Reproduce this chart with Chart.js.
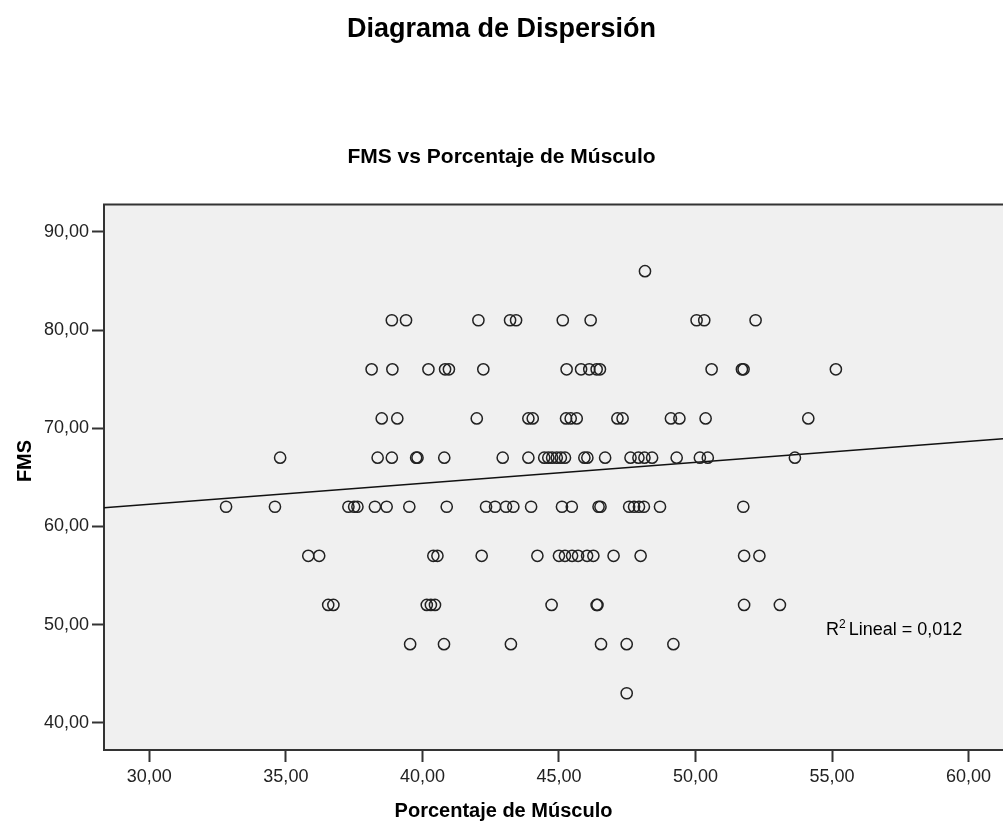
<!DOCTYPE html>
<html>
<head>
<meta charset="utf-8">
<script src="https://cdn.jsdelivr.net/npm/chart.js@4.4.0/dist/chart.umd.min.js"></script>
<style>
html,body{margin:0;padding:0;background:#ffffff;overflow:hidden}
canvas{display:block}
</style>
</head>
<body>
<canvas id="c" width="1003" height="836"></canvas>
<script>
// ---- texts ----
const titleText = 'Diagrama de Dispersión';
const subtitleText = 'FMS vs Porcentaje de Músculo';
const xAxisTitle = 'Porcentaje de Músculo';
const yAxisTitle = 'FMS';
const fitLabelSup = '2';
const fitLabelRest = ' Lineal = 0,012';

// ---- tick labels ----
const xTicks = [30, 35, 40, 45, 50, 55, 60];
const yTicks = [40, 50, 60, 70, 80, 90];

// ---- data: Porcentaje de Músculo for each FMS level ----
const fmsLevels = [86, 81, 76, 71, 67, 62, 57, 52, 48, 43];
const muscle86 = [48.15];
const muscle81 = [38.88, 39.40, 42.05, 43.21, 43.43, 45.14, 46.16, 50.04, 50.32, 52.20];
const muscle76 = [38.14, 38.90, 40.22, 40.83, 40.97, 42.23, 45.28, 45.81, 46.11, 46.38, 46.50, 50.59, 51.70, 51.76, 55.14];
const muscle71 = [38.51, 39.08, 41.99, 43.88, 44.04, 45.26, 45.43, 45.65, 47.14, 47.33, 49.10, 49.41, 50.37, 54.13];
const muscle67 = [34.79, 38.36, 38.88, 39.77, 39.82, 40.80, 42.94, 43.88, 44.46, 44.61, 44.75, 44.92, 45.07, 45.22, 45.93, 46.04, 46.69, 47.62, 47.91, 48.13, 48.41, 49.31, 50.16, 50.45, 53.64];
const muscle62 = [32.81, 34.60, 37.29, 37.50, 37.62, 38.26, 38.69, 39.52, 40.89, 42.33, 42.66, 43.06, 43.33, 43.98, 45.11, 45.47, 46.45, 46.52, 47.57, 47.75, 47.93, 48.11, 48.70, 51.75];
const muscle57 = [35.82, 36.22, 40.40, 40.55, 42.17, 44.21, 45.00, 45.22, 45.48, 45.70, 46.03, 46.26, 47.00, 47.99, 51.78, 52.34];
const muscle52 = [36.55, 36.74, 40.16, 40.31, 40.46, 44.73, 46.38, 46.41, 51.78, 53.09];
const muscle48 = [39.55, 40.79, 43.24, 46.54, 47.48, 49.19];
const muscle43 = [47.48];
const muscleRows = [muscle86, muscle81, muscle76, muscle71, muscle67, muscle62, muscle57, muscle52, muscle48, muscle43];

// ---- fit line (at the plot edges) ----
const fitX = [28.34, 61.26];
const fitY = [61.89, 68.93];

// ---- axis ranges ----
const xRange = [28.34, 61.26];
const yRange = [37.22, 92.78];

// build points
const points = [];
muscleRows.forEach((row, i) => row.forEach(m => points.push({x: m, y: fmsLevels[i]})));
const fitPoints = fitX.map((x, i) => ({x: x, y: fitY[i]}));

const FAMILY = "'Liberation Sans', Arial, sans-serif";
const fmt = v => Number(v).toFixed(2).replace('.', ',');

const decorPlugin = {
  id: 'decor',
  beforeDraw(chart) {
    const {ctx, chartArea: a} = chart;
    ctx.save();
    ctx.fillStyle = '#f0f0f0';
    ctx.fillRect(a.left, a.top, a.right - a.left + 2, a.bottom - a.top);
    ctx.restore();
  },
  afterDraw(chart) {
    const {ctx, chartArea: a, scales} = chart;
    ctx.save();
    // top frame line
    ctx.strokeStyle = '#333333';
    ctx.lineWidth = 2;
    ctx.beginPath();
    ctx.moveTo(a.left - 1, a.top);
    ctx.lineTo(a.right + 2, a.top);
    ctx.stroke();
    // axis titles
    ctx.fillStyle = '#000000';
    ctx.font = 'bold 20px ' + FAMILY;
    ctx.textAlign = 'center';
    ctx.textBaseline = 'middle';
    ctx.fillText(xAxisTitle, chart.width / 2 + 2, 811);
    ctx.save();
    ctx.translate(25, 461);
    ctx.rotate(-Math.PI / 2);
    ctx.fillText(yAxisTitle, 0, 0);
    ctx.restore();
    // R² label
    const px = scales.x.getPixelForValue(54.78);
    const py = scales.y.getPixelForValue(48.92);
    ctx.textAlign = 'left';
    ctx.textBaseline = 'alphabetic';
    ctx.font = '18px ' + FAMILY;
    ctx.fillStyle = '#000000';
    ctx.fillText('R', px, py);
    const rw = ctx.measureText('R').width;
    ctx.font = '12px ' + FAMILY;
    ctx.fillText(fitLabelSup, px + rw, py - 7);
    const sw = ctx.measureText(fitLabelSup).width;
    ctx.font = '18px ' + FAMILY;
    ctx.fillText(fitLabelRest, px + rw + sw - 2, py);
    ctx.restore();
  }
};

new Chart(document.getElementById('c'), {
  data: {
    datasets: [
      {
        type: 'scatter',
        data: points,
        pointStyle: 'circle',
        pointRadius: 5.6,
        pointBorderWidth: 1.5,
        pointBorderColor: '#222222',
        pointBackgroundColor: 'rgba(0,0,0,0)',
        order: 1
      },
      {
        type: 'line',
        data: fitPoints,
        borderColor: '#111111',
        borderWidth: 1.5,
        pointRadius: 0,
        fill: false,
        order: 2
      }
    ]
  },
  options: {
    responsive: false,
    animation: false,
    devicePixelRatio: 1,
    layout: {autoPadding: false, padding: {left: 0, right: 0, top: 0, bottom: 0}},
    plugins: {
      legend: {display: false},
      tooltip: {enabled: false},
      title: {
        display: true, text: titleText, color: '#000000',
        font: {family: FAMILY, size: 27, weight: 'bold'},
        padding: {top: 13.4, bottom: 60}
      },
      subtitle: {
        display: true, text: subtitleText, color: '#000000',
        font: {family: FAMILY, size: 21, weight: 'bold'},
        padding: {top: 39.2, bottom: 34.4}
      }
    },
    scales: {
      x: {
        type: 'linear', position: 'bottom',
        min: xRange[0], max: xRange[1],
        afterBuildTicks: s => { s.ticks = xTicks.map(v => ({value: v})); },
        afterFit: s => { s.height = 86; s.paddingLeft = 0; s.paddingRight = 0; },
        ticks: {callback: fmt, color: '#222222', font: {family: FAMILY, size: 18}, padding: 4, maxRotation: 0, autoSkip: false},
        grid: {drawOnChartArea: false, drawTicks: true, tickLength: 12, tickColor: '#333333', tickWidth: 2},
        border: {display: true, color: '#333333', width: 2}
      },
      y: {
        type: 'linear', position: 'left',
        min: yRange[0], max: yRange[1],
        afterBuildTicks: s => { s.ticks = yTicks.map(v => ({value: v})); },
        afterFit: s => { s.width = 104; s.paddingTop = 0; s.paddingBottom = 0; },
        ticks: {callback: fmt, color: '#222222', font: {family: FAMILY, size: 18}, padding: 3, autoSkip: false},
        grid: {drawOnChartArea: false, drawTicks: true, tickLength: 12, tickColor: '#333333', tickWidth: 2},
        border: {display: true, color: '#333333', width: 2}
      }
    }
  },
  plugins: [decorPlugin]
});
</script>
</body>
</html>
